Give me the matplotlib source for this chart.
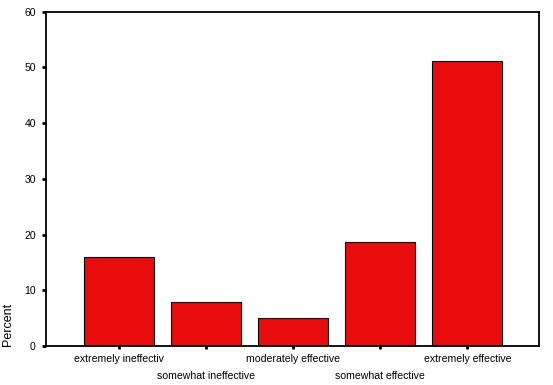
import numpy as np
import matplotlib.pyplot as plt

categories = ['extremely ineffectiv', 'somewhat ineffective', 'moderately effective',
              'somewhat effective', 'extremely effective']
percent = [15.9, 8.0, 5.1, 18.7, 51.2]
yticks = [0, 10, 20, 30, 40, 50, 60]

plt.rcParams['font.family'] = ['Liberation Sans', 'DejaVu Sans']

fig = plt.figure(figsize=(5.53, 3.85), dpi=100)
ax = fig.add_axes([0.0823, 0.101, 0.892, 0.869])

x = np.arange(len(categories))
ax.bar(x, percent, width=0.8, color='#e80c0c', edgecolor='black', linewidth=0.8)

ax.set_xlim(-0.84, 4.82)
ax.set_ylim(0, 60)
ax.set_yticks(yticks)
ax.set_yticklabels([str(v) for v in yticks], fontsize=7.5)

even = x[::2]
odd = x[1::2]
ax.set_xticks(even)
ax.set_xticklabels([categories[i] for i in even], fontsize=7.6)
ax.set_xticks(odd, minor=True)
ax.set_xticklabels([categories[i] for i in odd], minor=True, fontsize=7.6)

ax.tick_params(axis='y', length=3, width=2, pad=4, direction='out')
ax.tick_params(axis='x', which='both', length=2.5, width=2, direction='out')
ax.tick_params(axis='x', which='major', pad=3.5)
ax.tick_params(axis='x', which='minor', pad=15.5)

for s in ax.spines.values():
    s.set_linewidth(1.3)

ax.set_ylabel('Percent', fontsize=9, loc='bottom', labelpad=7)

fig.savefig('out.png', dpi=100)
